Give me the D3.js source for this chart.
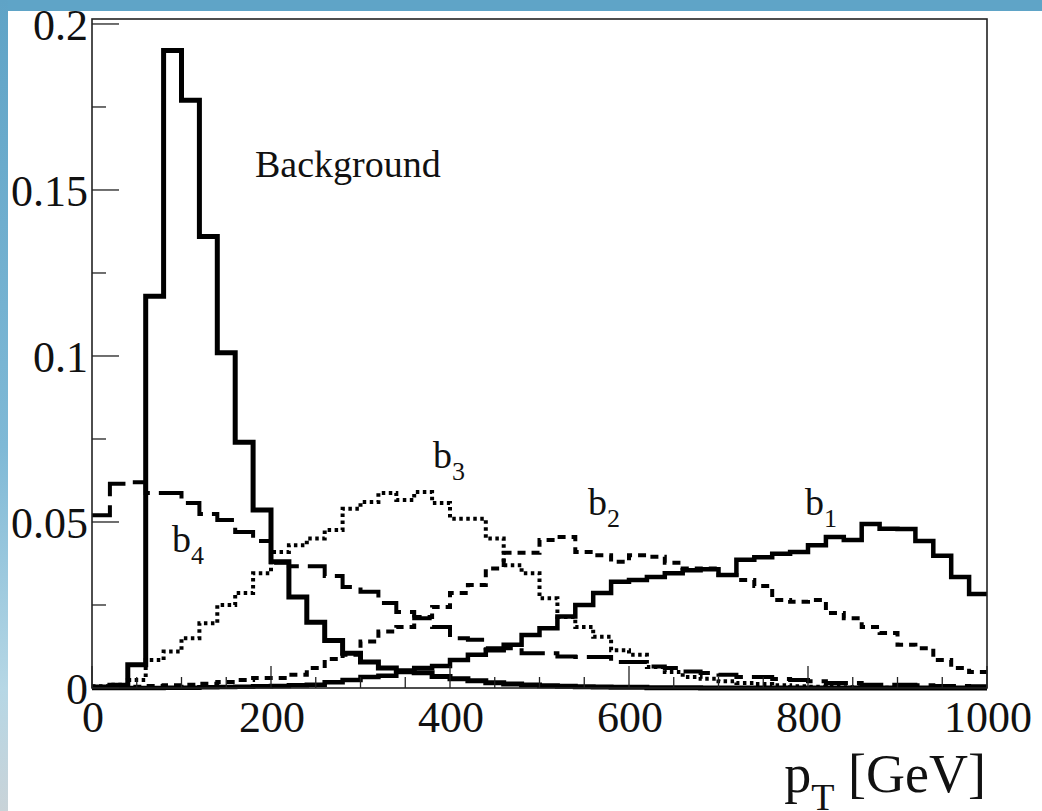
<!DOCTYPE html>
<html>
<head>
<meta charset="utf-8">
<script src="https://cdn.jsdelivr.net/npm/d3@7"></script>
<style>
  body { margin: 0; background: #ffffff; }
  svg { display: block; }
  text { font-family: "Liberation Serif", "DejaVu Serif", serif; fill: #111; }
</style>
</head>
<body>
<svg id="chart" width="1042" height="811"></svg>
<script>
// pT spectra, 20 GeV bins from 0 to 1000 GeV
let binWidth = 20;
let background = [0.0003, 0.0008, 0.007, 0.118, 0.192, 0.177, 0.136, 0.101, 0.074, 0.0536,
  0.038, 0.0274, 0.0198, 0.0143, 0.0105, 0.0078, 0.006, 0.0052, 0.0046, 0.0035,
  0.0028, 0.0022, 0.0016, 0.0012, 0.0009, 0.0007, 0.0005, 0.0004, 0.0003, 0.0002,
  0.0002, 0.0001, 0.0001, 0.0001, 0, 0, 0, 0, 0, 0,
  0, 0, 0, 0, 0, 0, 0, 0, 0, 0];
let b1 = [0, 0, 0, 0, 0.0001, 0.0001, 0.0002, 0.0003, 0.0004, 0.0005,
  0.0006, 0.0008, 0.001, 0.0017, 0.0024, 0.0033, 0.0037, 0.0048, 0.006, 0.0066,
  0.0084, 0.010, 0.0114, 0.013, 0.016, 0.018, 0.0215, 0.025, 0.0286, 0.032,
  0.0325, 0.0334, 0.0346, 0.0355, 0.0358, 0.034, 0.0386, 0.0394, 0.0404, 0.041,
  0.043, 0.0455, 0.0446, 0.0494, 0.048, 0.0479, 0.0443, 0.0398, 0.0334, 0.0283];
let b2 = [0.0002, 0.0003, 0.0004, 0.0006, 0.0008, 0.001, 0.0013, 0.0018, 0.0024, 0.003,
  0.003, 0.004, 0.006, 0.0087, 0.010, 0.014, 0.017, 0.0184, 0.0214, 0.0244,
  0.0286, 0.031, 0.036, 0.0407, 0.0407, 0.0446, 0.0455, 0.041, 0.040, 0.038,
  0.040, 0.0395, 0.0377, 0.036, 0.036, 0.034, 0.0325, 0.0307, 0.0265, 0.026,
  0.0265, 0.0226, 0.021, 0.0184, 0.0166, 0.013, 0.012, 0.0084, 0.006, 0.0048];
let b3 = [0.0005, 0.001, 0.0024, 0.0084, 0.011, 0.015, 0.0195, 0.025, 0.0286, 0.0346,
  0.041, 0.043, 0.045, 0.0476, 0.054, 0.056, 0.0587, 0.0566, 0.059, 0.0557,
  0.051, 0.051, 0.045, 0.037, 0.0346, 0.027, 0.0214, 0.0184, 0.0154, 0.0114,
  0.010, 0.0063, 0.0048, 0.0033, 0.0028, 0.002, 0.0015, 0.0012, 0.0008, 0.0005,
  0.0004, 0.0003, 0.0002, 0.0002, 0.0001, 0.0001, 0, 0, 0, 0];
let b4 = [0.052, 0.0615, 0.062, 0.0587, 0.0587, 0.0557, 0.0524, 0.0506, 0.047, 0.0443,
  0.0377, 0.0367, 0.0367, 0.0337, 0.0304, 0.029, 0.0256, 0.0229, 0.021, 0.0184,
  0.015, 0.0145, 0.012, 0.012, 0.0105, 0.0105, 0.0095, 0.0093, 0.0093, 0.0078,
  0.0078, 0.0065, 0.006, 0.005, 0.0045, 0.004, 0.0033, 0.0033, 0.0027, 0.0024,
  0.002, 0.0015, 0.0015, 0.001, 0.001, 0.001, 0.0008, 0.0006, 0.0006, 0.0005];

let xMajorTicks = [0, 200, 400, 600, 800, 1000];
let yMajorTicks = [0, 0.05, 0.1, 0.15, 0.2];
let yTickLabels = ["0", "0.05", "0.1", "0.15", "0.2"];

let svg = d3.select("#chart");
let width = 1042;
let height = 811;

// slide background (blue band on top and left)
let defs = svg.append("defs");
let grad = defs.append("linearGradient").attr("id", "sideGrad")
  .attr("x1", 0).attr("y1", 0).attr("x2", 0).attr("y2", 1);
grad.append("stop").attr("offset", "0%").attr("stop-color", "#5fa3c6");
grad.append("stop").attr("offset", "55%").attr("stop-color", "#7fb9d6");
grad.append("stop").attr("offset", "85%").attr("stop-color", "#b6d7e5");
grad.append("stop").attr("offset", "100%").attr("stop-color", "#c9d3d8");
svg.append("rect").attr("x", 0).attr("y", 0).attr("width", width).attr("height", 11).attr("fill", "#5fa4c7");
svg.append("rect").attr("x", 0).attr("y", 0).attr("width", 8).attr("height", height).attr("fill", "url(#sideGrad)");

let plotLeft = 92, plotRight = 987, plotTop = 19, plotBottom = 688;
let xScale = d3.scaleLinear().domain([0, 1000]).range([plotLeft, plotRight]);
let yScale = d3.scaleLinear().domain([0, 0.2015]).range([plotBottom, plotTop]);

// histograms
function stepPoints(values) {
  let pts = values.map((v, i) => [i * binWidth, v]);
  pts.push([values.length * binWidth, values[values.length - 1]]);
  return pts;
}
let line = d3.line()
  .x(d => xScale(d[0]))
  .y(d => yScale(d[1]))
  .curve(d3.curveStepAfter);

let series = [
  { name: "b4", values: b4, width: 4, dash: "28,9" },
  { name: "b3", values: b3, width: 4, dash: "3.5,3.5" },
  { name: "b2", values: b2, width: 4, dash: "8,6" },
  { name: "b1", values: b1, width: 4.5, dash: null },
  { name: "bg", values: background, width: 5, dash: null }
];
let hists = svg.append("g").attr("id", "hists");
hists.selectAll("path").data(series).enter().append("path")
  .attr("d", d => line(stepPoints(d.values)))
  .attr("fill", "none")
  .attr("stroke", "#000")
  .attr("stroke-width", d => d.width)
  .attr("stroke-dasharray", d => d.dash)
  .attr("stroke-linejoin", "miter")
  .attr("stroke-linecap", "butt");

// frame
svg.append("rect")
  .attr("x", plotLeft).attr("y", plotTop)
  .attr("width", plotRight - plotLeft).attr("height", plotBottom - plotTop)
  .attr("fill", "none").attr("stroke", "#222").attr("stroke-width", 1.6);

// ticks (drawn inside the frame, ROOT style)
let xMinor = d3.range(0, 1001, 50).filter(v => v % 200 != 0);
let yMinor = d3.range(0.025, 0.2, 0.05);
let ticks = svg.append("g").attr("stroke", "#222").attr("stroke-width", 1.3);
ticks.selectAll(".xmaj").data(xMajorTicks).enter().append("line")
  .attr("x1", d => xScale(d)).attr("x2", d => xScale(d))
  .attr("y1", plotBottom).attr("y2", plotBottom - 22);
ticks.selectAll(".xmin").data(xMinor).enter().append("line")
  .attr("x1", d => xScale(d)).attr("x2", d => xScale(d))
  .attr("y1", plotBottom).attr("y2", plotBottom - 11);
ticks.selectAll(".ymaj").data(yMajorTicks).enter().append("line")
  .attr("x1", plotLeft).attr("x2", plotLeft + 27)
  .attr("y1", d => yScale(d)).attr("y2", d => yScale(d));
ticks.selectAll(".ymin").data(yMinor).enter().append("line")
  .attr("x1", plotLeft).attr("x2", plotLeft + 14)
  .attr("y1", d => yScale(d)).attr("y2", d => yScale(d));

// tick labels
svg.selectAll(".xlab").data(xMajorTicks).enter().append("text")
  .attr("x", d => xScale(d) + 1)
  .attr("y", 732)
  .attr("text-anchor", "middle")
  .style("font-size", "44px")
  .text(d => d);
svg.selectAll(".ylab").data(yMajorTicks).enter().append("text")
  .attr("x", 88)
  .attr("y", d => yScale(d) + 16)
  .attr("text-anchor", "end")
  .style("font-size", "44px")
  .text((d, i) => yTickLabels[i]);

// axis title
let title = svg.append("text")
  .attr("x", 986).attr("y", 792)
  .attr("text-anchor", "end")
  .style("font-size", "54px");
title.append("tspan").text("p");
title.append("tspan").attr("dy", 18).style("font-size", "38px").text("T");
title.append("tspan").attr("dy", -18).text(" [GeV]");

// curve labels
svg.append("text").attr("x", 255).attr("y", 177).style("font-size", "38px").text("Background");
let labels = [
  { main: "b", sub: "1", x: 805, y: 515 },
  { main: "b", sub: "2", x: 588, y: 515 },
  { main: "b", sub: "3", x: 433, y: 468 },
  { main: "b", sub: "4", x: 172, y: 552 }
];
labels.forEach(function (l) {
  let t = svg.append("text").attr("x", l.x).attr("y", l.y).style("font-size", "38px");
  t.append("tspan").text(l.main);
  t.append("tspan").attr("dy", 12).style("font-size", "26px").text(l.sub);
});
</script>
</body>
</html>
